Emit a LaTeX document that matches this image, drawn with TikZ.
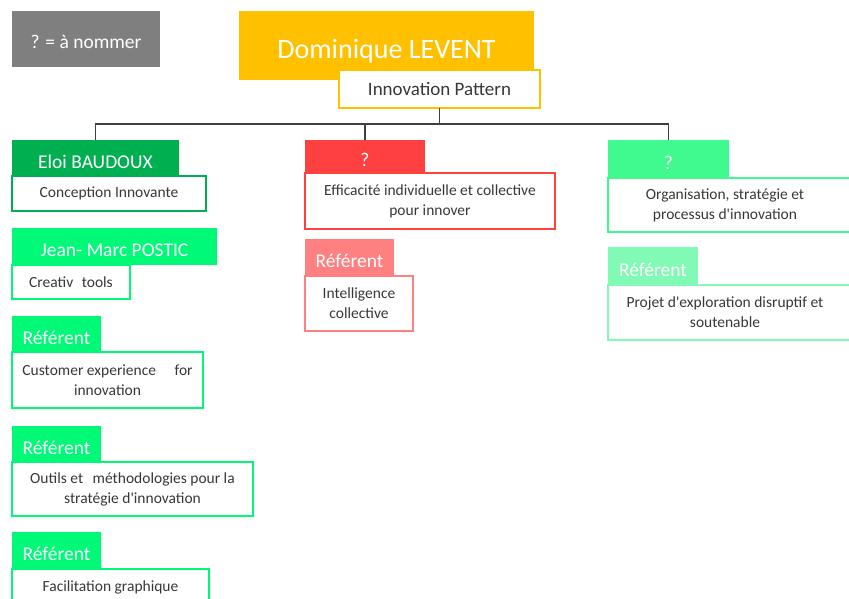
\documentclass[tikz,border=0pt]{standalone}
\usepackage{fontspec}
\setmainfont{Carlito}
\usetikzlibrary{positioning}

\definecolor{greyq}{RGB}{127,127,127}
\definecolor{gold}{RGB}{255,192,0}
\definecolor{darkgreen}{RGB}{0,176,80}
\definecolor{flashgreen}{RGB}{0,250,120}
\definecolor{redq}{RGB}{255,64,64}
\definecolor{pinkref}{RGB}{255,128,128}
\definecolor{mintq}{RGB}{64,250,144}
\definecolor{mintref}{RGB}{128,250,180}
\definecolor{txt}{RGB}{56,56,56}
\newcommand{\apos}{\textquotesingle}

\tikzset{
  head/.style={fill=#1, text=white, anchor=north west, inner sep=0pt, outer sep=0pt,
    text height=20, text depth=0, font=\fontsize{19.5}{22}\selectfont},
  sub/.style={draw=#1, line width=2pt, fill=white, text=txt, anchor=north west,
    inner sep=0pt, outer sep=0pt, align=center, font=\fontsize{15.5}{20}\selectfont},
  bodytxt/.style={text=txt, align=center, font=\fontsize{15.5}{20}\selectfont},
  conn/.style={line width=1.3pt, draw=black!75},
}

\begin{document}
\begin{tikzpicture}[x=1pt,y=-1pt]
  \useasboundingbox (0,0) rectangle (849,599);
  % top
  \node[head=greyq, minimum width=148, minimum height=56] (legend) at (12,11) {? = à nommer};
  \node[head=gold, minimum width=295, minimum height=69, text height=27,
    font=\fontsize{28}{30}\selectfont] (dl) at (239,11) {Dominique LEVENT};
  \node[sub=gold, minimum width=201, minimum height=38, font=\fontsize{19}{22}\selectfont] (ip) at (339,70) {Innovation Pattern};

  % left column
  \node[head=darkgreen, minimum width=167, minimum height=36] (eloi) at (12,140) {Eloi BAUDOUX};
  \node[sub=darkgreen, minimum width=194, minimum height=35] (ci) at (12,176) {Conception Innovante};
  \node[head=flashgreen, minimum width=205, minimum height=37] (jmp) at (12,228) {Jean- Marc POSTIC};
  \node[sub=flashgreen, minimum width=118, minimum height=34] (ct) at (12,265) {Creativ\hspace{5pt} tools};
  \node[head=flashgreen, minimum width=89, minimum height=36] (refa) at (12,316) {Référent};
  \node[sub=flashgreen, minimum width=191, minimum height=56] (cx) at (12,352) {Customer experience\hspace{15pt} for\\innovation};
  \node[head=flashgreen, minimum width=89, minimum height=36] (refb) at (12,426) {Référent};
  \node[sub=flashgreen, minimum width=241, minimum height=54] (om) at (12,462) {Outils et\hspace{6pt} méthodologies pour la\\stratégie d\apos innovation};
  \node[head=flashgreen, minimum width=89, minimum height=37] (refc) at (12,532) {Référent};
  \node[sub=flashgreen, minimum width=197, minimum height=36] (fg) at (12,569) {Facilitation graphique};

  % middle column
  \node[head=redq, minimum width=120, minimum height=34] (qred) at (305,140) {?};
  \node[sub=redq, minimum width=250, minimum height=56] (eic) at (305,173) {Efficacité individuelle et collective\\pour innover};
  \node[head=pinkref, minimum width=89, minimum height=37] (refd) at (305,239) {Référent};
  \node[sub=pinkref, minimum width=108, minimum height=55] (ic) at (305,276) {Intelligence\\collective};

  % right column
  \node[head=mintq, minimum width=121, minimum height=38] (qmint) at (608,140) {?};
  \node[sub=mintq, minimum width=260, minimum height=54] (osp) at (608,178) {};
  \node[bodytxt] (ospt) at (725,205) {Organisation, stratégie et\\processus d\apos innovation};
  \node[head=mintref, minimum width=90, minimum height=38] (refe) at (608,247) {Référent};
  \node[sub=mintref, minimum width=260, minimum height=55] (pe) at (608,285) {};
  \node[bodytxt] (pet) at (725,312) {Projet d\apos exploration disruptif et\\soutenable};

  % connectors
  \path (ip.south) ++(0,16) coordinate (bus);
  \draw[conn] (ip.south) -- (bus);
  \draw[conn] (eloi.north) |- (bus) -| (qmint.north);
  \draw[conn] (qred.north) -- (qred.north |- bus);
\end{tikzpicture}
\end{document}
